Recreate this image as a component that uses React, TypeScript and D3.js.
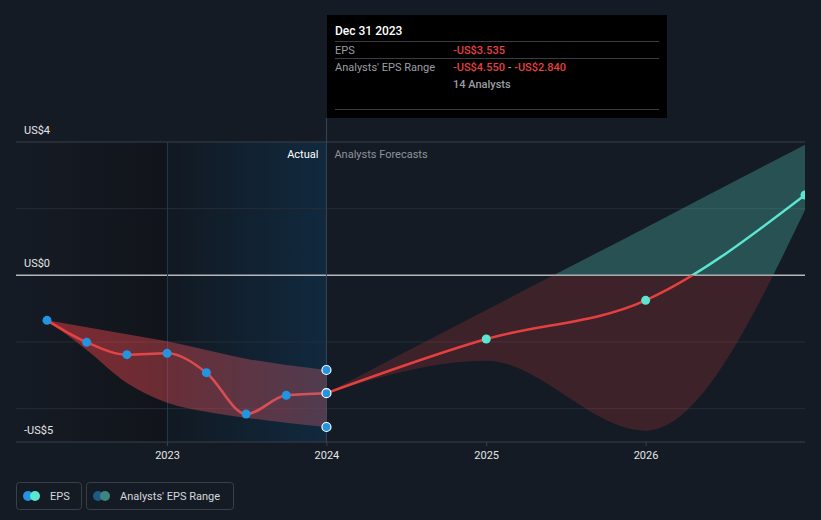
import React from "react";
import * as d3 from "d3";

const W = 821;
const H = 520;

const pastDates = ["2022-03-31", "2022-06-30", "2022-09-30", "2022-12-31", "2023-03-31", "2023-06-30", "2023-09-30", "2023-12-31"];
const pastEps = [-1.35, -2.01, -2.38, -2.34, -2.92, -4.16, -3.6, -3.535];
const pastHigh = [-1.35, -1.56, -1.77, -1.98, -2.24, -2.5, -2.69, -2.84];
const pastLow = [-1.35, -2.24, -3.23, -3.82, -4.09, -4.27, -4.42, -4.55];

const fcDates = ["2023-12-31", "2024-12-31", "2025-12-31", "2026-12-31"];
const fcEps = [-3.535, -1.91, -0.75, 2.41];
const fcHigh = [-3.535, -1.04, 1.43, 3.92];
const fcLow = [-3.535, -2.56, -4.66, 1.96];

const yTicks = [4, 2, 0, -2, -4, -5];
const yLabels = [
  { v: 4, t: "US$4" },
  { v: 0, t: "US$0" },
  { v: -5, t: "-US$5" },
];
const xTicks = ["2023-01-01", "2024-01-01", "2025-01-01", "2026-01-01"];
const xTickLabels = ["2023", "2024", "2025", "2026"];

const FONT = "Roboto, 'Noto Sans', sans-serif";
const RED = "#e5403f";
const TEAL = "#5ce6d0";
const BLUE = "#2394df";
const BG = "#151b25";

const pd = (s: string) => d3.timeParse("%Y-%m-%d")(s) as Date;

export default function App() {
  const x = d3.scaleTime().domain([pd("2022-01-19"), pd("2026-12-31")]).range([16, 805]);
  const y = d3.scaleLinear().domain([-5, 4]).range([442, 142]);
  const y0 = y(0);
  const xL = 16;
  const xR = 805;
  const xStartActual = x(pd("2023-01-01"));
  const xNow = x(pd("2023-12-31"));

  const past = pastDates.map((d, i) => ({ d: pd(d), v: pastEps[i], lo: pastLow[i], hi: pastHigh[i] }));
  const fc = fcDates.map((d, i) => ({ d: pd(d), v: fcEps[i], lo: fcLow[i], hi: fcHigh[i] }));

  const line = d3
    .line<{ d: Date; v: number }>()
    .x((p) => x(p.d))
    .y((p) => y(p.v))
    .curve(d3.curveMonotoneX);
  const area = d3
    .area<{ d: Date; lo: number; hi: number }>()
    .x((p) => x(p.d))
    .y0((p) => y(p.lo))
    .y1((p) => y(p.hi))
    .curve(d3.curveMonotoneX);

  const last = past[past.length - 1];

  return (
    <div style={{ position: "fixed", left: 0, top: 0, width: W, height: H }}>
      <svg width={W} height={H} style={{ display: "block", fontFamily: FONT }}>
        <defs>
          <linearGradient id="pastBg" x1="0" x2="1" y1="0" y2="0">
            <stop offset="0" stopColor={BG} />
            <stop offset="1" stopColor="#11141a" />
          </linearGradient>
          <linearGradient id="actualBg" x1="0" x2="1" y1="0" y2="0">
            <stop offset="0" stopColor="#111922" />
            <stop offset="1" stopColor="#11293e" />
          </linearGradient>
          <linearGradient id="pastBand" x1="0" x2="1" y1="0" y2="0">
            <stop offset="0" stopColor="#d8363a" stopOpacity="0.55" />
            <stop offset="1" stopColor="#b85a6c" stopOpacity="0.38" />
          </linearGradient>
          <linearGradient id="pastLine" x1="0" x2="1" y1="0" y2="0">
            <stop offset="0" stopColor="#e8403f" />
            <stop offset="1" stopColor="#d4535c" />
          </linearGradient>
          <clipPath id="above">
            <rect x={xL} y={0} width={xR - xL} height={y0} />
          </clipPath>
          <clipPath id="below">
            <rect x={xL} y={y0} width={xR - xL} height={H - y0} />
          </clipPath>
        </defs>

        <rect x={0} y={0} width={W} height={H} fill={BG} />
        <rect x={xL} y={142} width={xStartActual - xL} height={300} fill="url(#pastBg)" />
        <rect x={xStartActual} y={142} width={xNow - xStartActual} height={300} fill="url(#actualBg)" />

        {yTicks.map((t) => (
          <line
            key={t}
            x1={xL}
            x2={xR}
            y1={y(t)}
            y2={y(t)}
            stroke={t === 0 ? "#b4b6ba" : t === 4 || t === -5 ? "#3b404a" : "#272d37"}
            strokeWidth={t === 0 ? 1.5 : 1}
          />
        ))}

        <line x1={xStartActual} x2={xStartActual} y1={142} y2={442} stroke="#1d3850" strokeWidth={1} />
        <line x1={xNow} x2={xNow} y1={118} y2={442} stroke="#34475a" strokeWidth={1} />

        {xTicks.map((t, i) => (
          <g key={t}>
            <line x1={x(pd(t))} x2={x(pd(t))} y1={442} y2={446} stroke="#3b404a" />
            <text x={x(pd(t))} y={459} fill="#e6e6e6" fontSize={11} textAnchor="middle">
              {xTickLabels[i]}
            </text>
          </g>
        ))}

        {yLabels.map((l) => (
          <text key={l.v} x={24} y={y(l.v) - 8} fill="#e6e6e6" fontSize={11}>
            {l.t}
          </text>
        ))}

        <text x={xNow - 8} y={158} fill="#ffffff" fontSize={11} textAnchor="end">
          Actual
        </text>
        <text x={xNow + 8} y={158} fill="#8e939a" fontSize={11}>
          Analysts Forecasts
        </text>

        {/* past band */}
        <path d={area(past) || ""} fill="url(#pastBand)" />

        {/* forecast band */}
        <path d={area(fc) || ""} fill={TEAL} fillOpacity={0.27} clipPath="url(#above)" />
        <path d={area(fc) || ""} fill={RED} fillOpacity={0.2} clipPath="url(#below)" />

        {/* lines */}
        <path d={line(past) || ""} fill="none" stroke="url(#pastLine)" strokeWidth={2.5} />
        <path d={line(fc) || ""} fill="none" stroke={TEAL} strokeWidth={2.5} clipPath="url(#above)" />
        <path d={line(fc) || ""} fill="none" stroke={RED} strokeWidth={2.5} clipPath="url(#below)" />

        {past.slice(0, -1).map((p, i) => (
          <circle key={i} cx={x(p.d)} cy={y(p.v)} r={4.5} fill={BLUE} />
        ))}
        {[last.hi, last.v, last.lo].map((v, i) => (
          <circle key={"n" + i} cx={x(last.d)} cy={y(v)} r={4.5} fill={BLUE} stroke="#ffffff" strokeWidth={1.2} />
        ))}
        {fc.slice(1).map((p, i) => (
          <circle key={"f" + i} cx={x(p.d)} cy={y(p.v)} r={4.5} fill={TEAL} />
        ))}
        <rect x={xR} y={0} width={W - xR} height={442} fill={BG} />

        {/* tooltip */}
        <rect x={327} y={15} width={340} height={103} fill="#000000" />
        <text x={335} y={35} fill="#ffffff" fontSize={12} fontWeight={500}>
          Dec 31 2023
        </text>
        <line x1={335} x2={659} y1={41.5} y2={41.5} stroke="#3a3d42" />
        <text x={335} y={54} fill="#9a9ea4" fontSize={11}>
          EPS
        </text>
        <text x={453} y={54} fill={RED} fontSize={11} fontWeight={500}>
          -US$3.535
        </text>
        <line x1={335} x2={659} y1={58.5} y2={58.5} stroke="#3a3d42" />
        <text x={335} y={71} fill="#9a9ea4" fontSize={11}>
          Analysts' EPS Range
        </text>
        <text x={453} y={71} fontSize={11} fontWeight={500}>
          <tspan fill={RED}>-US$4.550</tspan>
          <tspan fill="#9a9ea4"> - </tspan>
          <tspan fill={RED}>-US$2.840</tspan>
        </text>
        <text x={453} y={88} fill="#9a9ea4" fontSize={11} fontWeight={500}>
          14 Analysts
        </text>
        <line x1={335} x2={659} y1={109.5} y2={109.5} stroke="#3a3d42" />

        {/* legend */}
        <rect x={16.5} y={482.5} width={65} height={27} rx={3} fill="none" stroke="#3a3f48" />
        <circle cx={28} cy={496} r={5} fill={BLUE} />
        <circle cx={35} cy={496} r={5} fill={TEAL} />
        <text x={50} y={500} fill="#d6d8dc" fontSize={11}>
          EPS
        </text>
        <rect x={86.5} y={482.5} width={147} height={27} rx={3} fill="none" stroke="#3a3f48" />
        <circle cx={98} cy={496} r={5} fill="#1d5a86" />
        <circle cx={105} cy={496} r={5} fill="#3e8580" />
        <text x={120} y={500} fill="#d6d8dc" fontSize={11}>
          Analysts' EPS Range
        </text>
      </svg>
    </div>
  );
}
